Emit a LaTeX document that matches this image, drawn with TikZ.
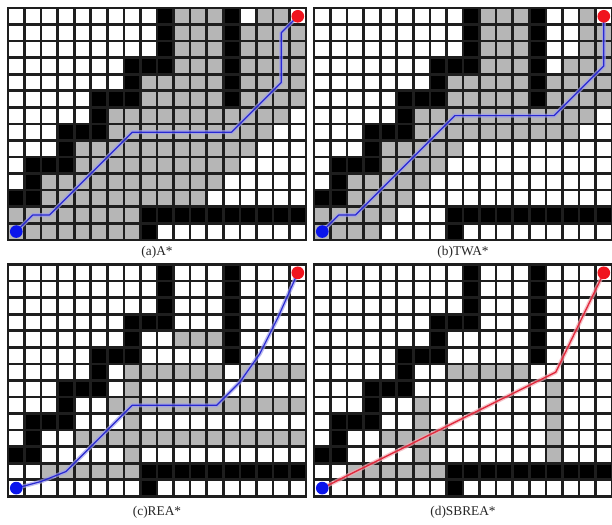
\documentclass[tikz,border=0pt]{standalone}
\usepackage{fontspec}
\setmainfont{Liberation Serif}
\definecolor{cellgray}{RGB}{182,182,182}
\definecolor{gridc}{RGB}{30,30,30}
\definecolor{pathblue}{RGB}{40,40,210}
\definecolor{pathred}{RGB}{225,40,60}
\definecolor{dotblue}{RGB}{10,20,235}
\definecolor{dotred}{RGB}{240,20,30}
\tikzset{
 gridline/.style={draw=gridc, line width=2pt, line cap=rect},
 bluehalo/.style={draw=pathblue!45, line width=3pt, opacity=0.7, line join=round},
 bluecore/.style={draw=pathblue, line width=0.9pt, line join=round},
 redhalo/.style={draw=pathred!40, line width=3pt, opacity=0.7, line join=round},
 redcore/.style={draw=pathred, line width=1pt, line join=round},
 startdot/.style={circle, fill=dotblue, inner sep=0pt, minimum size=9.5pt},
 goaldot/.style={circle, fill=dotred, inner sep=0pt, minimum size=9.5pt},
 lab/.style={font=\fontsize{10pt}{12pt}\selectfont, text=black!85}
}
\newcommand\gridpanel[1]{%
  \fill[white] (0,0) rectangle (18,14);
  \foreach \r/\a/\b in {#1}{\fill[cellgray] (\a,\r) rectangle ({\b+1},{\r+1});}
  \foreach \r/\a/\b in {0/9/9,1/9/9,2/9/9,3/7/9,4/7/7,5/5/7,6/5/5,7/3/5,8/3/3,9/1/3,10/1/1,11/0/1,12/8/17,13/8/8,0/13/13,1/13/13,2/13/13,3/13/13,4/13/13,5/13/13}{\fill[black] (\a,\r) rectangle ({\b+1},{\r+1});}
  \foreach \i in {0,...,18}{\draw[gridline] (\i,0) -- (\i,14);}
  \foreach \j in {0,...,14}{\draw[gridline] (0,\j) -- (18,\j);}
}
\begin{document}
\begin{tikzpicture}[x=0.75pt,y=-0.75pt]
\useasboundingbox (0,0) rectangle (612,525);
\fill[white] (0,0) rectangle (612,525);
% (a)
\begin{scope}[shift={(6pt,-6pt)}, x=12.42pt, y=-12.42pt]
 \gridpanel{0/10/12,0/15/16,1/10/12,1/14/17,2/10/12,2/14/17,3/10/12,3/14/17,4/8/12,4/14/17,5/8/12,5/14/17,6/6/16,7/6/15,8/4/14,9/4/13,10/2/12,11/2/11,12/0/7,13/0/7}
 \coordinate (sa) at (0.5,13.5);
 \coordinate (ga) at (17.5,0.5);
 \draw[bluehalo] (sa) -- (1.5,12.5) -- (2.5,12.5) -- (7.5,7.5) -- (13.5,7.5) -- (16.5,4.5) -- (16.5,1.5) -- (ga);
 \draw[bluecore] (sa) -- (1.5,12.5) -- (2.5,12.5) -- (7.5,7.5) -- (13.5,7.5) -- (16.5,4.5) -- (16.5,1.5) -- (ga);
 \node[startdot] (da) at (sa) {};
 \node[goaldot] (ea) at (ga) {};
\end{scope}
% (b)
\begin{scope}[shift={(235.5pt,-6pt)}, x=12.42pt, y=-12.42pt]
 \gridpanel{0/10/12,0/16/16,1/10/12,1/16/17,2/10/12,2/16/17,3/10/12,3/15/17,4/8/12,4/14/17,5/8/12,5/14/17,6/6/16,7/6/15,8/4/8,9/4/7,10/2/6,11/2/5,12/0/4,13/0/3}
 \coordinate (sb) at (0.5,13.5);
 \coordinate (gb) at (17.5,0.5);
 \draw[bluehalo] (sb) -- (1.5,12.5) -- (2.5,12.5) -- (8.5,6.5) -- (14.5,6.5) -- (17.5,3.5) -- (gb);
 \draw[bluecore] (sb) -- (1.5,12.5) -- (2.5,12.5) -- (8.5,6.5) -- (14.5,6.5) -- (17.5,3.5) -- (gb);
 \node[startdot] (db) at (sb) {};
 \node[goaldot] (eb) at (gb) {};
\end{scope}
% (c)
\begin{scope}[shift={(6pt,-198.4pt)}, x=12.42pt, y=-12.42pt]
 \gridpanel{4/10/12,6/7/12,6/14/17,7/7/7,8/6/17,9/7/7,10/4/17,11/7/7,12/2/7}
 \coordinate (sc) at (0.5,13.5);
 \coordinate (gc) at (17.5,0.5);
 \draw[bluehalo] (sc) -- (2,13.1) -- (3.5,12.5) -- (7.5,8.5) -- (12.6,8.5) -- (14,7.1) -- (15.2,5.4) -- (16.3,3.2) -- (gc);
 \draw[bluecore] (sc) -- (2,13.1) -- (3.5,12.5) -- (7.5,8.5) -- (12.6,8.5) -- (14,7.1) -- (15.2,5.4) -- (16.3,3.2) -- (gc);
 \node[startdot] (dc) at (sc) {};
 \node[goaldot] (ec) at (gc) {};
\end{scope}
% (d)
\begin{scope}[shift={(235.5pt,-198.4pt)}, x=12.42pt, y=-12.42pt]
 \gridpanel{6/8/12,7/14/14,8/14/14,9/14/14,10/14/14,11/14/14,8/6/6,9/6/6,10/4/7,11/6/6,12/2/7}
 \coordinate (sd) at (0.5,13.5);
 \coordinate (gd) at (17.5,0.5);
 \draw[redhalo] (sd) -- (14.6,6.5) -- (gd);
 \draw[redcore] (sd) -- (14.6,6.5) -- (gd);
 \node[startdot] (dd) at (sd) {};
 \node[goaldot] (ed) at (gd) {};
\end{scope}
\node[lab] (la) at (157,252) {(a)A*};
\node[lab] (lb) at (463,252) {(b)TWA*};
\node[lab] (lc) at (157,512) {(c)REA*};
\node[lab] (ld) at (463,512) {(d)SBREA*};
\end{tikzpicture}
\end{document}
